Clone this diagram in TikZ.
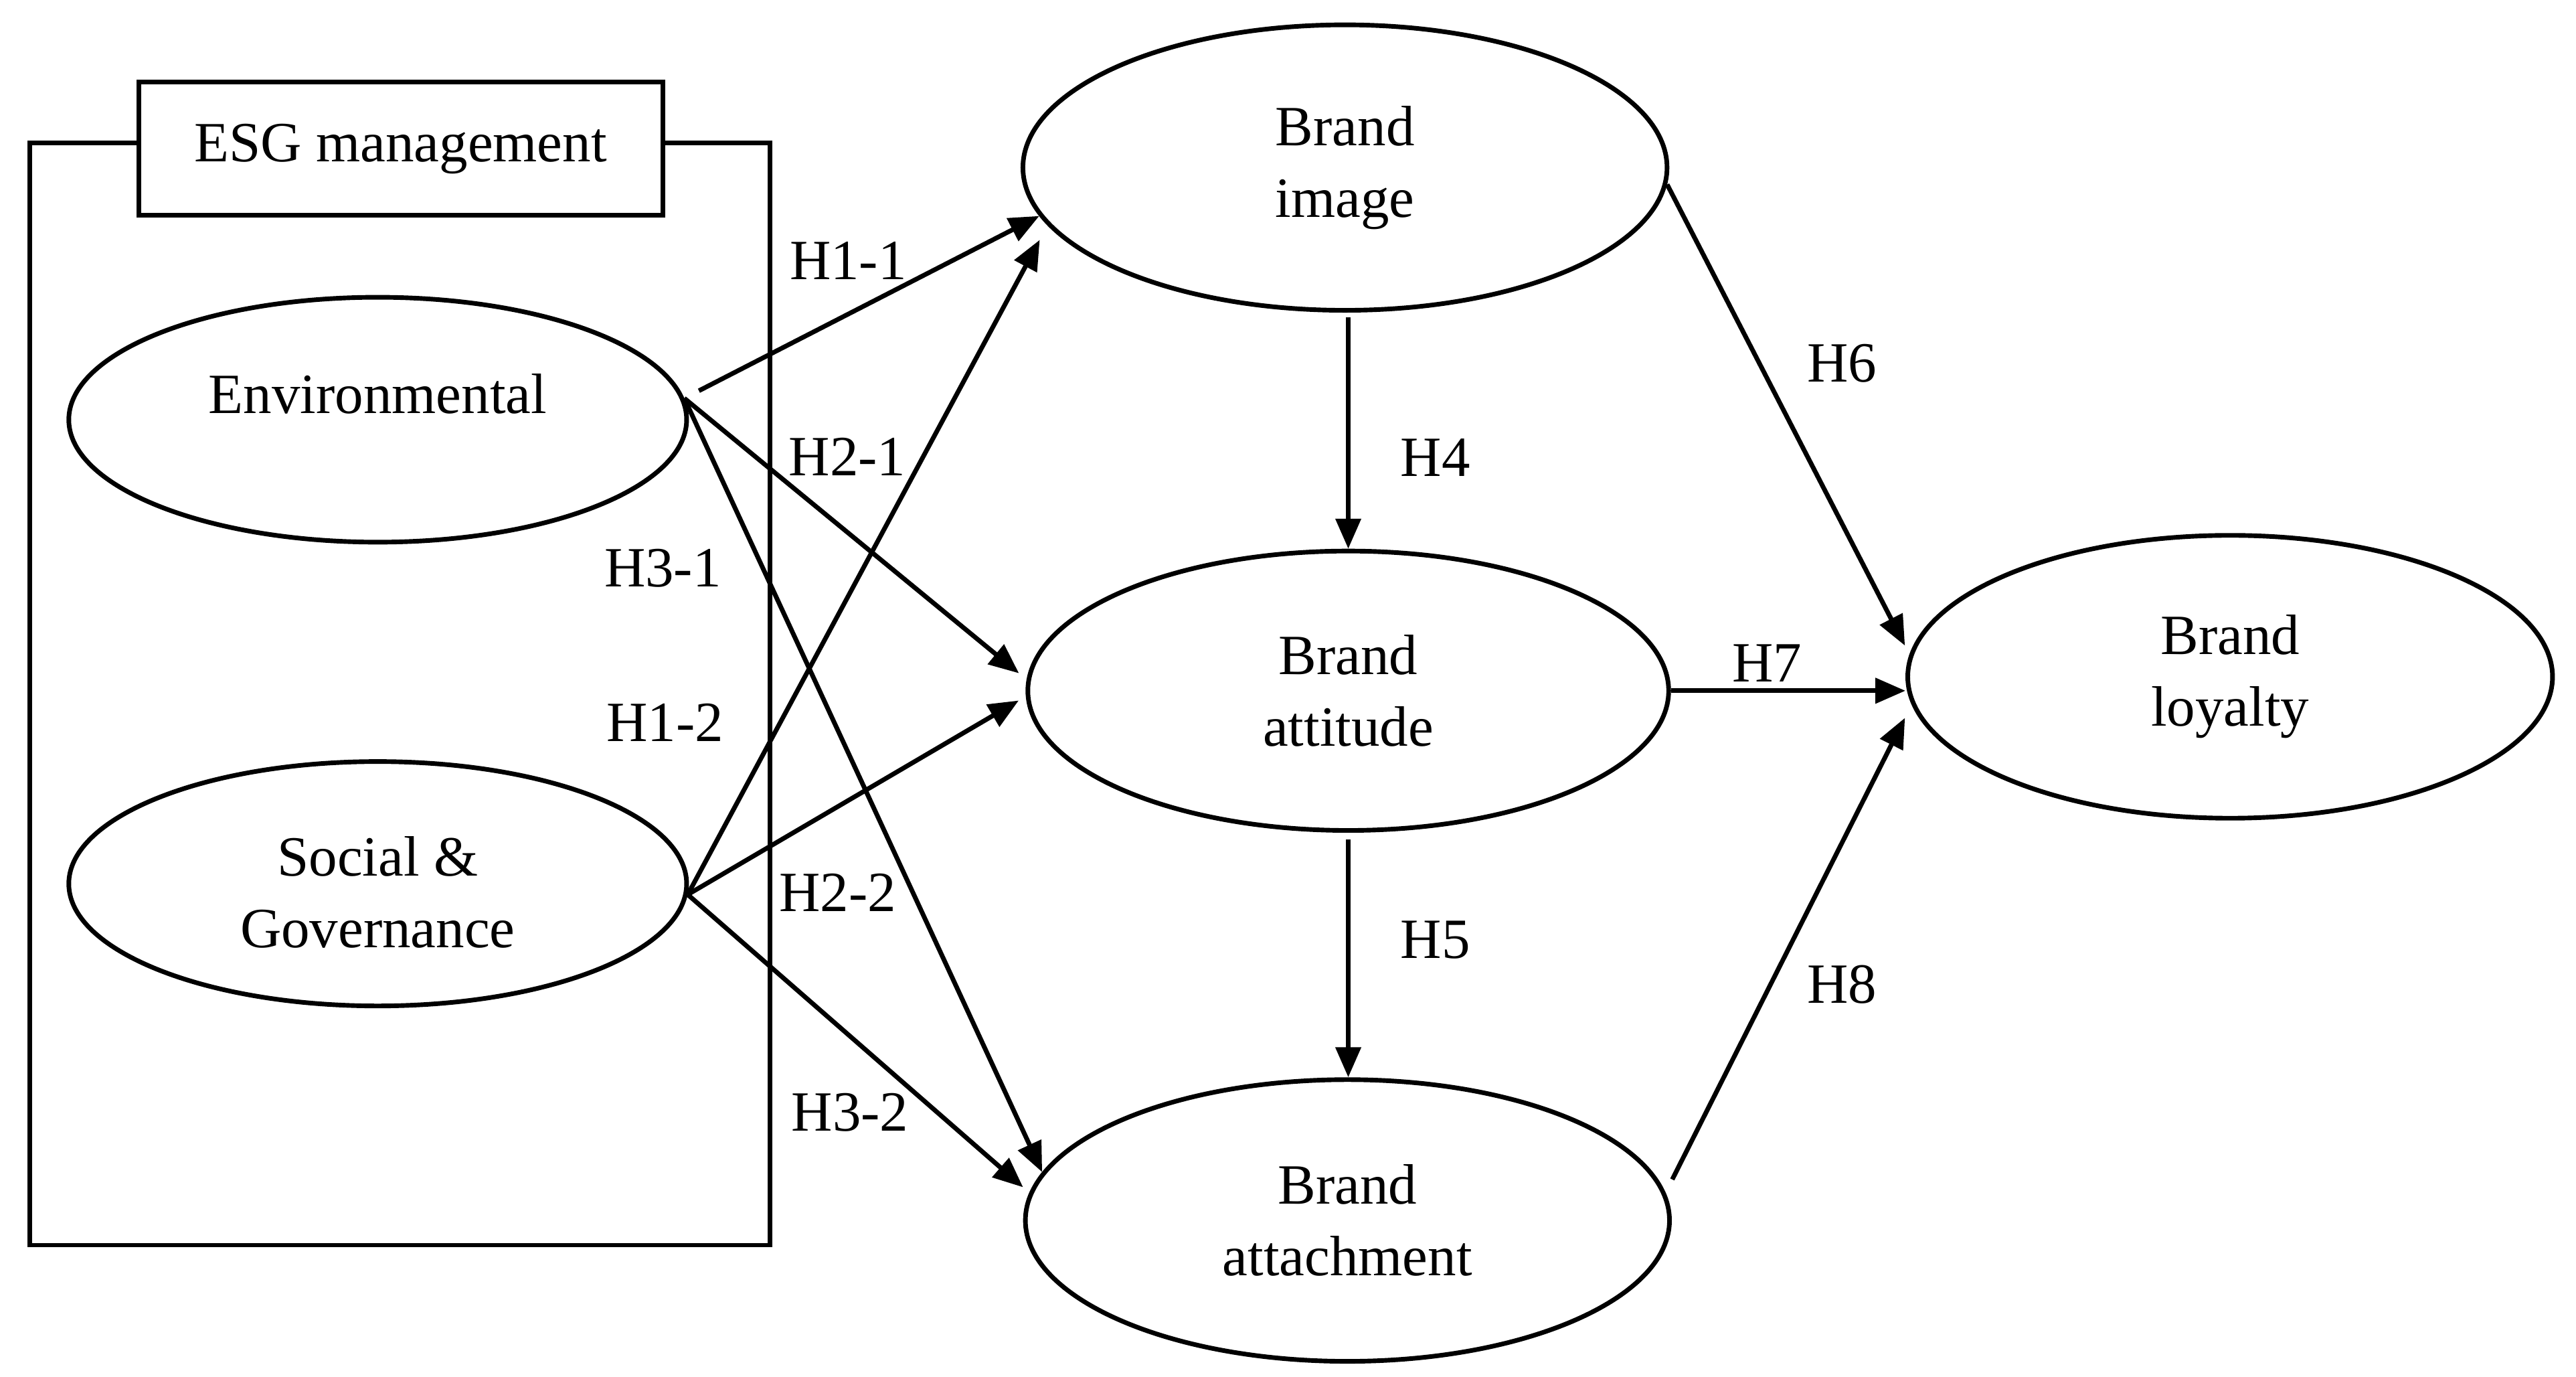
\documentclass[tikz,border=0pt]{standalone}
\usepackage{fontspec}
\setmainfont{Liberation Serif}
\usetikzlibrary{arrows.meta,shapes.geometric}
\tikzset{
  txt/.style={font=\fontsize{9.85}{12.4}\selectfont},
  lat/.style={txt, draw, ellipse, line width=0.8pt, inner sep=0pt, align=center},
  hyp/.style={-{Triangle[length=5.2pt,width=4.3pt]}, line width=0.8pt},
  hlab/.style={txt, inner sep=0pt},
  framebox/.style={draw, line width=0.8pt},
}
\newcommand{\lowerby}[2]{\raisebox{#1}[\height][\depth]{#2}}
\begin{document}
\begin{tikzpicture}[x=0.01cm, y=-0.01cm]
  \useasboundingbox (0,0) rectangle (1568.6,838);
  % ESG frame
  \draw[framebox] (18,87) rectangle (469,758);
  \node[txt, framebox, fill=white, minimum width=3.19cm, minimum height=0.81cm] (esg) at (244,90.5) {ESG management};
  % constructs
  \node[lat, minimum width=3.76cm, minimum height=1.49cm] (env) at (230,255.5) {\lowerby{0.158cm}{Environmental}};
  \node[lat, minimum width=3.76cm, minimum height=1.487cm] (soc) at (230,538) {\lowerby{-0.05cm}{Social \&}\\\lowerby{-0.05cm}{Governance}};
  \node[lat, minimum width=3.92cm, minimum height=1.737cm] (img) at (819,102) {Brand\\image};
  \node[lat, minimum width=3.90cm, minimum height=1.70cm] (att) at (821,420.5) {Brand\\attitude};
  \node[lat, minimum width=3.92cm, minimum height=1.714cm] (atc) at (820.5,743) {Brand\\attachment};
  \node[lat, minimum width=3.924cm, minimum height=1.721cm] (loy) at (1358,412) {Brand\\loyalty};
  % hypotheses
  \draw[hyp, shorten <=0.1cm] (env.4) -- (img.189);
  \draw[hyp, shorten >=0.06cm] (env.4) -- (att.178);
  \draw[hyp] (env.4) -- (atc.171);
  \draw[hyp, shorten >=0.1cm] (soc.-2) -- (img.191);
  \draw[hyp, shorten >=0.05cm] (soc.-2) -- (att.181);
  \draw[hyp, shorten >=0.05cm] (soc.-2) -- (atc.175);
  \draw[hyp, shorten <=0.03cm] (img.south -| att.north) -- (att.north);
  \draw[hyp, shorten <=0.04cm] (att.south) -- (att.south |- atc.north);
  \draw[hyp, shorten >=0.06cm] (img.-3) -- (loy.176);
  \draw[hyp] (att.east) -- (att.east -| loy.west);
  \draw[hyp, shorten <=0.09cm, shorten >=0.09cm] (atc.5) -- (loy.185);
  % labels
  \node[hlab] (h11) at (516.5,158.7) {H1-1};
  \node[hlab] (h21) at (516,278) {H2-1};
  \node[hlab] (h31) at (403.6,346) {H3-1};
  \node[hlab] (h12) at (405,440) {H1-2};
  \node[hlab] (h22) at (510.2,543.4) {H2-2};
  \node[hlab] (h32) at (517.6,677.4) {H3-2};
  \node[hlab] (h4) at (874,278.6) {H4};
  \node[hlab] (h5) at (874,572) {H5};
  \node[hlab] (h6) at (1121.7,221) {H6};
  \node[hlab] (h7) at (1076,403.6) {H7};
  \node[hlab] (h8) at (1121.7,599.4) {H8};
\end{tikzpicture}
\end{document}
